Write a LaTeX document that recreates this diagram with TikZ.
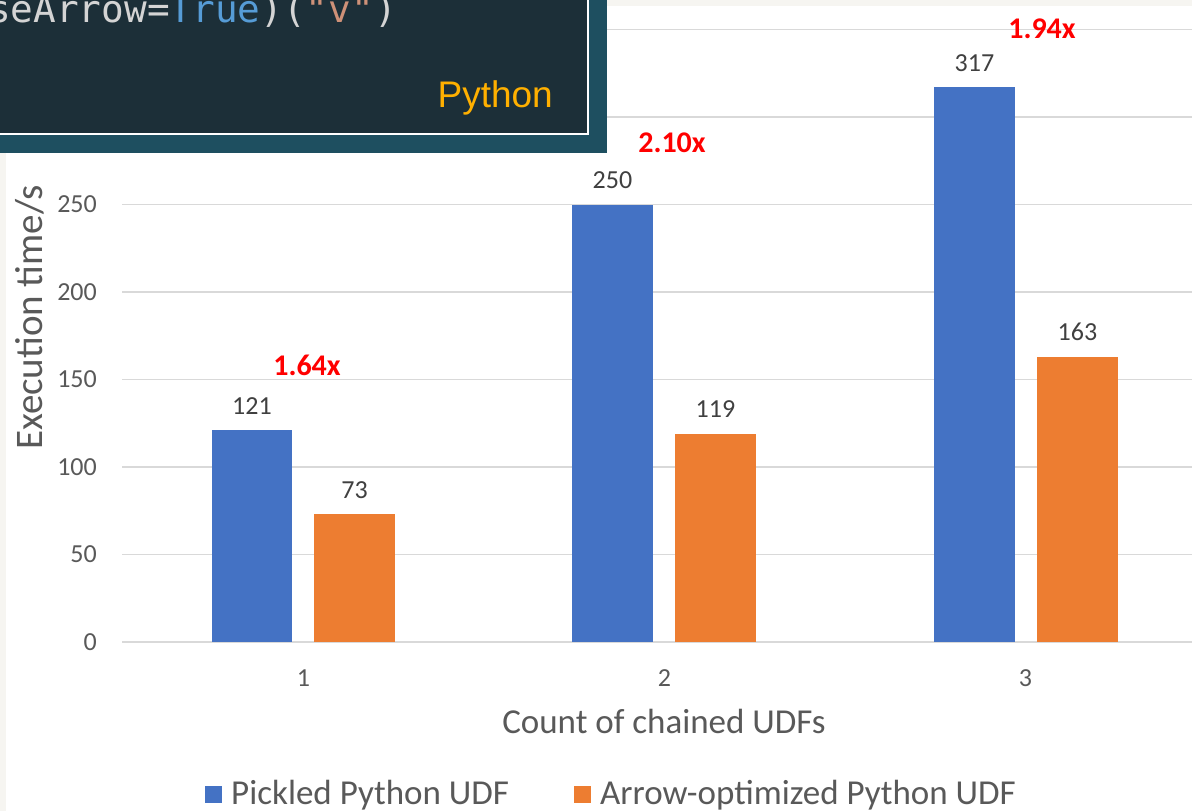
\documentclass[tikz,border=0pt]{standalone}
\usepackage{fontspec}
\setmainfont{Carlito}
\newfontfamily\codefont{DejaVu Sans Mono}
\newfontfamily\tagfont{Liberation Sans}

\definecolor{pickled}{HTML}{4472C4}
\definecolor{arrowopt}{HTML}{ED7D31}
\definecolor{gridgray}{HTML}{D9D9D9}
\definecolor{labelgray}{HTML}{595959}
\definecolor{valuegray}{HTML}{404040}
\definecolor{codebg}{HTML}{1C2F38}
\definecolor{codeband}{HTML}{1E4F60}
\definecolor{codetext}{HTML}{D4D4D4}
\definecolor{codekw}{HTML}{569CD6}
\definecolor{codestr}{HTML}{CE9178}
\definecolor{tagorange}{HTML}{FFB000}
\definecolor{pagebg}{HTML}{F6F5F1}

\begin{document}
\begin{tikzpicture}[x=1pt, y=-1pt,
    tick/.style={text=labelgray, font=\fontsize{26}{26}\selectfont, inner sep=0pt},
    value/.style={text=valuegray, font=\fontsize{26}{26}\selectfont, inner sep=0pt, anchor=base},
    speedup/.style={text=red, font=\bfseries\fontsize{30}{30}\selectfont, inner sep=0pt, anchor=base},
    axistitle/.style={text=labelgray, font=\fontsize{35}{35}\selectfont, inner sep=0pt, anchor=base},
    legendtext/.style={text=labelgray, font=\fontsize{35}{35}\selectfont, inner sep=0pt, anchor=base west},
    gridrule/.style={gridgray, line width=1.5pt}]

    \useasboundingbox (0,0) rectangle (1192,811);
    \clip (0,0) rectangle (1192,811);

    \fill[pagebg] (0,0) rectangle (1192,811);
    \fill[white] (6,6) rectangle (1192,811);

    \draw[gridrule] (122,29.5) -- (1192,29.5);
    \draw[gridrule] (122,117) -- (1192,117);
    \draw[gridrule] (122,204.5) -- (1192,204.5);
    \draw[gridrule] (122,292) -- (1192,292);
    \draw[gridrule] (122,379.5) -- (1192,379.5);
    \draw[gridrule] (122,467) -- (1192,467);
    \draw[gridrule] (122,554.5) -- (1192,554.5);
    \draw[gridrule] (122,642) -- (1192,642);

    \node[tick, anchor=east] (y0) at (97,642) {0};
    \node[tick, anchor=east] (y50) at (97,554.5) {50};
    \node[tick, anchor=east] (y100) at (97,467) {100};
    \node[tick, anchor=east] (y150) at (97,379.5) {150};
    \node[tick, anchor=east] (y200) at (97,292) {200};
    \node[tick, anchor=east] (y250) at (97,204.5) {250};

    \fill[pickled] (212,642) rectangle (292,430.25);
    \fill[arrowopt] (314,642) rectangle (395,514.25);
    \fill[pickled] (572,642) rectangle (653,204.5);
    \fill[arrowopt] (675,642) rectangle (756,433.75);
    \fill[pickled] (934,642) rectangle (1015,87.25);
    \fill[arrowopt] (1037,642) rectangle (1118,356.75);

    \node[value] (p1) at (252,414.5) {121};
    \node[value] (a1) at (354.5,498) {73};
    \node[value] (p2) at (612.5,188.5) {250};
    \node[value] (a2) at (715.5,417.5) {119};
    \node[value] (p3) at (974.5,71) {317};
    \node[value] (a3) at (1077.5,340.5) {163};

    \node[speedup] (s1) at (307,375) {1.64x};
    \node[speedup] (s2) at (672,152) {2.10x};
    \node[speedup] (s3) at (1042,38) {1.94x};

    \node[tick] (x1) at (303.5,678) {1};
    \node[tick] (x2) at (664.5,678) {2};
    \node[tick] (x3) at (1025.5,678) {3};

    \node[axistitle] (xtitle) at (664,733) {Count of chained UDFs};
    \node[axistitle, font=\fontsize{39}{39}\selectfont, rotate=90] (ytitle) at (42,317.5) {Execution time/s};

    \fill[pickled] (205,786) rectangle (222,803);
    \node[legendtext] (leg1) at (231,804) {Pickled Python UDF};
    \fill[arrowopt] (574,786) rectangle (591,803);
    \node[legendtext] (leg2) at (600,804) {Arrow-optimized Python UDF};

    \fill[codeband] (-2,-2) rectangle (607,153);
    \draw[white, line width=1.5pt, fill=codebg] (-5,-5) rectangle (588,134);
    \node[anchor=base west, inner sep=0pt, font=\codefont\fontsize{37.7}{38}\selectfont] (code) at (-12,23)
        {\textcolor{codetext}{seArrow=}\textcolor{codekw}{True}\textcolor{codetext}{)(}\textcolor{codestr}{"v"}\textcolor{codetext}{)}};
    \node[anchor=base east, inner sep=0pt, text=tagorange, font=\tagfont\fontsize{37}{37}\selectfont] (lang) at (553,107) {Python};

\end{tikzpicture}
\end{document}
